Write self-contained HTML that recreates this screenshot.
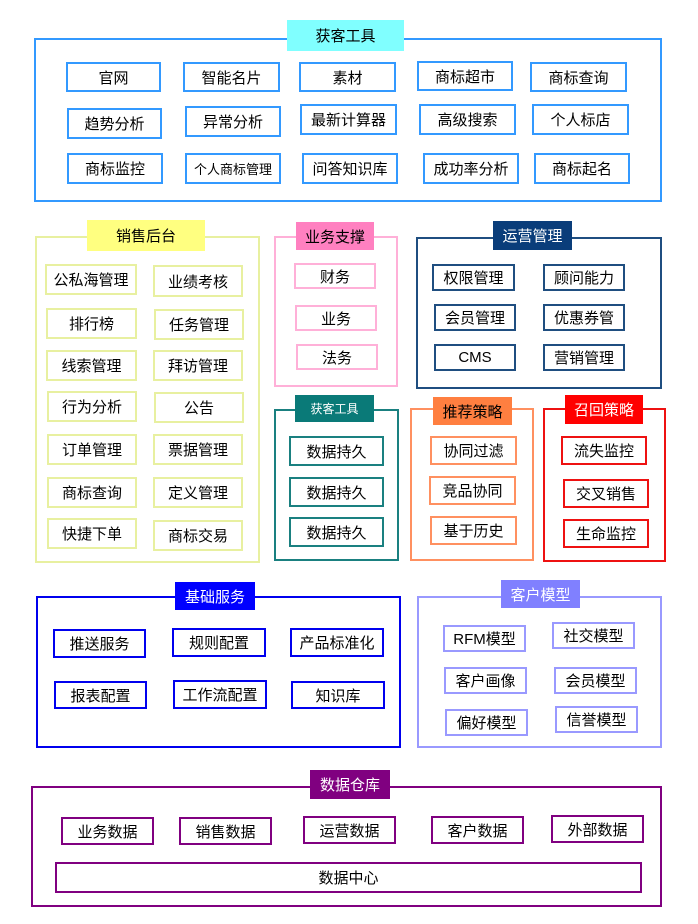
<!DOCTYPE html>
<html><head><meta charset="utf-8"><style>
body{margin:0;width:698px;height:924px;background:#fff;position:relative;overflow:hidden;font-family:"Liberation Sans","Noto Sans CJK SC",sans-serif;}
div{position:absolute;box-sizing:border-box;display:flex;align-items:center;justify-content:center;font-size:15px;color:#000;white-space:nowrap;}
.o{border:2px solid;}
.i{border:2px solid;background:#fff;}
.t{font-size:15px;}
</style></head><body>
<!-- 获客工具 top -->
<div class="o" style="left:34px;top:38px;width:628px;height:164px;border-color:#3399ff"></div>
<div class="t" style="left:287px;top:20px;width:117px;height:31px;background:#80ffff">获客工具</div>
<div class="i" style="left:66px;top:62px;width:95px;height:30px;border-color:#3399ff">官网</div>
<div class="i" style="left:183px;top:62px;width:97px;height:30px;border-color:#3399ff">智能名片</div>
<div class="i" style="left:299px;top:62px;width:97px;height:30px;border-color:#3399ff">素材</div>
<div class="i" style="left:417px;top:61px;width:96px;height:30px;border-color:#3399ff">商标超市</div>
<div class="i" style="left:530px;top:62px;width:97px;height:30px;border-color:#3399ff">商标查询</div>
<div class="i" style="left:67px;top:108px;width:95px;height:31px;border-color:#3399ff">趋势分析</div>
<div class="i" style="left:185px;top:106px;width:96px;height:31px;border-color:#3399ff">异常分析</div>
<div class="i" style="left:300px;top:104px;width:97px;height:31px;border-color:#3399ff">最新计算器</div>
<div class="i" style="left:419px;top:104px;width:97px;height:31px;border-color:#3399ff">高级搜索</div>
<div class="i" style="left:532px;top:104px;width:97px;height:31px;border-color:#3399ff">个人标店</div>
<div class="i" style="left:67px;top:153px;width:96px;height:31px;border-color:#3399ff">商标监控</div>
<div class="i" style="left:185px;top:153px;width:96px;height:31px;border-color:#3399ff;font-size:13px">个人商标管理</div>
<div class="i" style="left:302px;top:153px;width:96px;height:31px;border-color:#3399ff">问答知识库</div>
<div class="i" style="left:423px;top:153px;width:96px;height:31px;border-color:#3399ff">成功率分析</div>
<div class="i" style="left:534px;top:153px;width:96px;height:31px;border-color:#3399ff">商标起名</div>

<!-- 销售后台 -->
<div class="o" style="left:35px;top:236px;width:225px;height:327px;border-color:#e8f0a0"></div>
<div class="t" style="left:87px;top:220px;width:118px;height:31px;background:#ffff80">销售后台</div>
<div class="i" style="left:45px;top:264px;width:92px;height:31px;border-color:#e8f0a0">公私海管理</div>
<div class="i" style="left:153px;top:265px;width:90px;height:32px;border-color:#e8f0a0">业绩考核</div>
<div class="i" style="left:46px;top:308px;width:91px;height:31px;border-color:#e8f0a0">排行榜</div>
<div class="i" style="left:154px;top:309px;width:90px;height:31px;border-color:#e8f0a0">任务管理</div>
<div class="i" style="left:46px;top:350px;width:91px;height:31px;border-color:#e8f0a0">线索管理</div>
<div class="i" style="left:153px;top:350px;width:90px;height:31px;border-color:#e8f0a0">拜访管理</div>
<div class="i" style="left:47px;top:391px;width:90px;height:31px;border-color:#e8f0a0">行为分析</div>
<div class="i" style="left:154px;top:392px;width:90px;height:31px;border-color:#e8f0a0">公告</div>
<div class="i" style="left:47px;top:434px;width:90px;height:31px;border-color:#e8f0a0">订单管理</div>
<div class="i" style="left:153px;top:434px;width:90px;height:31px;border-color:#e8f0a0">票据管理</div>
<div class="i" style="left:47px;top:477px;width:90px;height:31px;border-color:#e8f0a0">商标查询</div>
<div class="i" style="left:153px;top:477px;width:90px;height:31px;border-color:#e8f0a0">定义管理</div>
<div class="i" style="left:47px;top:518px;width:90px;height:31px;border-color:#e8f0a0">快捷下单</div>
<div class="i" style="left:153px;top:520px;width:90px;height:31px;border-color:#e8f0a0">商标交易</div>

<!-- 业务支撑 -->
<div class="o" style="left:274px;top:236px;width:124px;height:151px;border-color:#ffb0d8"></div>
<div class="t" style="left:296px;top:222px;width:78px;height:28px;background:#ff80c0">业务支撑</div>
<div class="i" style="left:294px;top:263px;width:82px;height:26px;border-color:#ffb0d8">财务</div>
<div class="i" style="left:295px;top:305px;width:82px;height:26px;border-color:#ffb0d8">业务</div>
<div class="i" style="left:296px;top:344px;width:82px;height:26px;border-color:#ffb0d8">法务</div>

<!-- 运营管理 -->
<div class="o" style="left:416px;top:237px;width:246px;height:152px;border-color:#1f4e80"></div>
<div class="t" style="left:493px;top:221px;width:79px;height:29px;background:#0a3d7a;color:#fff">运营管理</div>
<div class="i" style="left:432px;top:264px;width:83px;height:27px;border-color:#1f4e80">权限管理</div>
<div class="i" style="left:543px;top:264px;width:82px;height:27px;border-color:#1f4e80">顾问能力</div>
<div class="i" style="left:434px;top:304px;width:82px;height:27px;border-color:#1f4e80">会员管理</div>
<div class="i" style="left:543px;top:304px;width:82px;height:27px;border-color:#1f4e80">优惠券管</div>
<div class="i" style="left:434px;top:344px;width:82px;height:27px;border-color:#1f4e80">CMS</div>
<div class="i" style="left:543px;top:344px;width:82px;height:27px;border-color:#1f4e80">营销管理</div>

<!-- 获客工具 teal -->
<div class="o" style="left:274px;top:409px;width:125px;height:152px;border-color:#1a8080"></div>
<div class="t" style="left:295px;top:395px;width:79px;height:27px;background:#0a7a78;color:#fff;font-size:12px">获客工具</div>
<div class="i" style="left:289px;top:436px;width:95px;height:30px;border-color:#1a8080">数据持久</div>
<div class="i" style="left:289px;top:477px;width:95px;height:30px;border-color:#1a8080">数据持久</div>
<div class="i" style="left:289px;top:517px;width:95px;height:30px;border-color:#1a8080">数据持久</div>

<!-- 推荐策略 -->
<div class="o" style="left:410px;top:408px;width:124px;height:153px;border-color:#ff9060"></div>
<div class="t" style="left:433px;top:397px;width:79px;height:28px;background:#ff7f40">推荐策略</div>
<div class="i" style="left:430px;top:436px;width:87px;height:29px;border-color:#ff9060">协同过滤</div>
<div class="i" style="left:429px;top:476px;width:87px;height:29px;border-color:#ff9060">竞品协同</div>
<div class="i" style="left:430px;top:516px;width:87px;height:29px;border-color:#ff9060">基于历史</div>

<!-- 召回策略 -->
<div class="o" style="left:543px;top:408px;width:123px;height:154px;border-color:#ee1111"></div>
<div class="t" style="left:565px;top:395px;width:78px;height:29px;background:#ff0000;color:#fff">召回策略</div>
<div class="i" style="left:561px;top:436px;width:86px;height:29px;border-color:#ee1111">流失监控</div>
<div class="i" style="left:563px;top:479px;width:86px;height:29px;border-color:#ee1111">交叉销售</div>
<div class="i" style="left:563px;top:519px;width:86px;height:29px;border-color:#ee1111">生命监控</div>

<!-- 基础服务 -->
<div class="o" style="left:36px;top:596px;width:365px;height:152px;border-color:#0000ee"></div>
<div class="t" style="left:175px;top:582px;width:80px;height:28px;background:#0000ff;color:#fff">基础服务</div>
<div class="i" style="left:53px;top:629px;width:93px;height:29px;border-color:#0000ee">推送服务</div>
<div class="i" style="left:172px;top:628px;width:94px;height:29px;border-color:#0000ee">规则配置</div>
<div class="i" style="left:290px;top:628px;width:94px;height:29px;border-color:#0000ee">产品标准化</div>
<div class="i" style="left:54px;top:681px;width:93px;height:28px;border-color:#0000ee">报表配置</div>
<div class="i" style="left:173px;top:680px;width:94px;height:29px;border-color:#0000ee">工作流配置</div>
<div class="i" style="left:291px;top:681px;width:94px;height:28px;border-color:#0000ee">知识库</div>

<!-- 客户模型 -->
<div class="o" style="left:417px;top:596px;width:245px;height:152px;border-color:#9999ff"></div>
<div class="t" style="left:501px;top:580px;width:79px;height:28px;background:#8080ff;color:#fff">客户模型</div>
<div class="i" style="left:443px;top:625px;width:83px;height:27px;border-color:#9999ff">RFM模型</div>
<div class="i" style="left:552px;top:622px;width:83px;height:27px;border-color:#9999ff">社交模型</div>
<div class="i" style="left:444px;top:667px;width:83px;height:27px;border-color:#9999ff">客户画像</div>
<div class="i" style="left:554px;top:667px;width:83px;height:27px;border-color:#9999ff">会员模型</div>
<div class="i" style="left:445px;top:709px;width:83px;height:27px;border-color:#9999ff">偏好模型</div>
<div class="i" style="left:555px;top:706px;width:83px;height:27px;border-color:#9999ff">信誉模型</div>

<!-- 数据仓库 -->
<div class="o" style="left:31px;top:786px;width:631px;height:121px;border-color:#800080"></div>
<div class="t" style="left:310px;top:770px;width:80px;height:29px;background:#800080;color:#fff">数据仓库</div>
<div class="i" style="left:61px;top:817px;width:93px;height:28px;border-color:#800080">业务数据</div>
<div class="i" style="left:179px;top:817px;width:93px;height:28px;border-color:#800080">销售数据</div>
<div class="i" style="left:303px;top:816px;width:93px;height:28px;border-color:#800080">运营数据</div>
<div class="i" style="left:431px;top:816px;width:93px;height:28px;border-color:#800080">客户数据</div>
<div class="i" style="left:551px;top:815px;width:93px;height:28px;border-color:#800080">外部数据</div>
<div class="i" style="left:55px;top:862px;width:587px;height:31px;border-color:#800080">数据中心</div>
</body></html>
